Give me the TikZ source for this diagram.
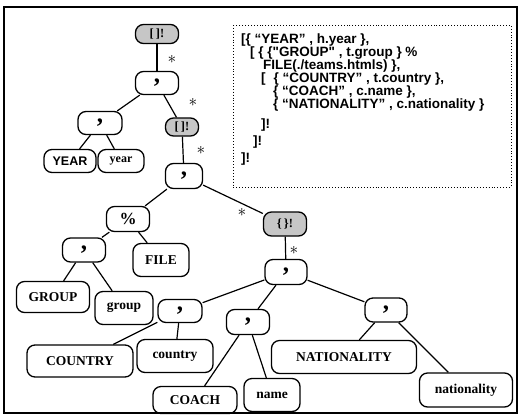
\documentclass[tikz,border=0pt]{standalone}
\usepackage{fontspec}
\setmainfont{Liberation Serif}
\newfontfamily\codefont{Liberation Sans}
\begin{document}
\begin{tikzpicture}[x=1pt,y=-1pt,
  tbox/.style={draw, line width=1.3pt, rounded corners=8pt, inner sep=0pt, font=\bfseries\fontsize{13.5}{14}\selectfont},
  cbox/.style={tbox, minimum width=43pt, minimum height=23pt, font=\bfseries\fontsize{25}{25}\selectfont},
  sbox/.style={tbox, fill=gray!45, font=\bfseries\fontsize{12.5}{12.5}\selectfont},
  conn/.style={line width=1.2pt},
  starn/.style={inner sep=0pt, font=\fontsize{19}{19}\selectfont},
  codeline/.style={anchor=west, inner sep=0pt, font=\codefont\bfseries\fontsize{13.5}{13}\selectfont}]
\useasboundingbox (0,0) rectangle (519,416);
\draw[line width=1.8pt] (4,7) rectangle (517,413);
% code box
\draw[dotted, line width=0.9pt] (233,25) rectangle (511,187);
\node[codeline] (l1) at (241,40) {[\{ “YEAR” , h.year \},};
\node[codeline] (l2) at (250,53) {[ \{ \{"GROUP" , t.group \} \%};
\node[codeline] (l3) at (263,66) {FILE(./teams.htmls) \},};
\node[codeline] (l4) at (261,79) {[\hspace{8pt}\{ “COUNTRY” , t.country \},};
\node[codeline] (l5) at (273,92) {\{ “COACH” , c.name \},};
\node[codeline] (l6) at (273,105) {\{ “NATIONALITY” , c.nationality \}};
\node[codeline] (l7) at (261,125) {]!};
\node[codeline] (l8) at (253,142) {]!};
\node[codeline] (l9) at (241,159) {]!};
% tree nodes
\node[sbox, minimum width=43pt, minimum height=19pt] (root) at (157,34) {[\,]!};
\node[cbox] (c1) at (157,83) {,};
\node[cbox, minimum width=44pt] (c2) at (100,123) {,};
\node[sbox, minimum width=33pt, minimum height=18pt] (r2) at (182,127) {[\,]!};
\node[tbox, minimum width=52pt, minimum height=23pt, font=\codefont\bfseries\fontsize{12.5}{13}\selectfont] (YEAR) at (70,161) {YEAR};
\node[tbox, minimum width=46pt, minimum height=23pt, font=\bfseries\fontsize{12}{13}\selectfont] (year) at (121,161) {year};
\node[cbox, minimum width=37pt, minimum height=25pt] (c3) at (184,176) {,};
\node[tbox, minimum width=43pt, minimum height=25pt, font=\bfseries\fontsize{17}{17}\selectfont] (pct) at (128,219) {\%};
\node[cbox, minimum width=43pt, minimum height=24pt] (cg) at (84,250) {,};
\node[tbox, minimum width=56pt, minimum height=33pt] (FILE) at (161,260) {FILE};
\node[tbox, minimum width=73pt, minimum height=31pt] (GROUP) at (53,297) {GROUP};
\node[tbox, minimum width=58pt, minimum height=33pt] (group) at (124,308) {group};
\node[sbox, minimum width=43pt, minimum height=24pt] (r3) at (285,224) {\{\,\}!};
\node[cbox, minimum width=42pt, minimum height=25pt] (c4) at (286,272) {,};
\node[cbox, minimum width=44pt] (cc) at (180,311) {,};
\node[tbox, minimum width=106pt, minimum height=32pt] (COUNTRY) at (80,361) {COUNTRY};
\node[tbox, minimum width=76pt, minimum height=33pt] (country) at (175,356) {country};
\node[cbox, minimum width=43pt, minimum height=25pt] (cco) at (248,322) {,};
\node[tbox, minimum width=84pt, minimum height=27pt] (COACH) at (195,400) {COACH};
\node[tbox, minimum width=56pt, minimum height=33pt] (name) at (272,395) {name};
\node[cbox, minimum width=42pt, minimum height=24pt] (cn) at (386,310) {,};
\node[tbox, minimum width=145pt, minimum height=33pt] (NAT) at (344,357) {NATIONALITY};
\node[tbox, minimum width=93pt, minimum height=34pt] (nat) at (466,390) {nationality};
% stars
\node[starn] (s1) at (172,59) {$\ast$};
\node[starn] (s2) at (193,102) {$\ast$};
\node[starn] (s3) at (201,150) {$\ast$};
\node[starn] (s4) at (242,212) {$\ast$};
\node[starn] (s5) at (294,250) {$\ast$};
% connectors
\draw[conn] (root) -- (c1);
\draw[conn] (c1) -- (c2);
\draw[conn] (c1) -- (r2);
\draw[conn] (c2) -- (YEAR);
\draw[conn] (c2) -- (year);
\draw[conn] (r2) -- (c3);
\draw[conn] (c3) -- (pct);
\draw[conn] (c3) -- (r3);
\draw[conn] (pct) -- (cg);
\draw[conn] (pct) -- (FILE);
\draw[conn] (cg) -- (GROUP);
\draw[conn] (cg) -- (group);
\draw[conn] (r3) -- (c4);
\draw[conn] (c4) -- (cc);
\draw[conn] (c4) -- (cco);
\draw[conn] (c4) -- (cn);
\draw[conn] (cc) -- (COUNTRY);
\draw[conn] (cc) -- (country);
\draw[conn] (cco) -- (COACH);
\draw[conn] (cco) -- (name);
\draw[conn] (cn) -- (NAT);
\draw[conn] (cn) -- (nat);
\end{tikzpicture}
\end{document}
